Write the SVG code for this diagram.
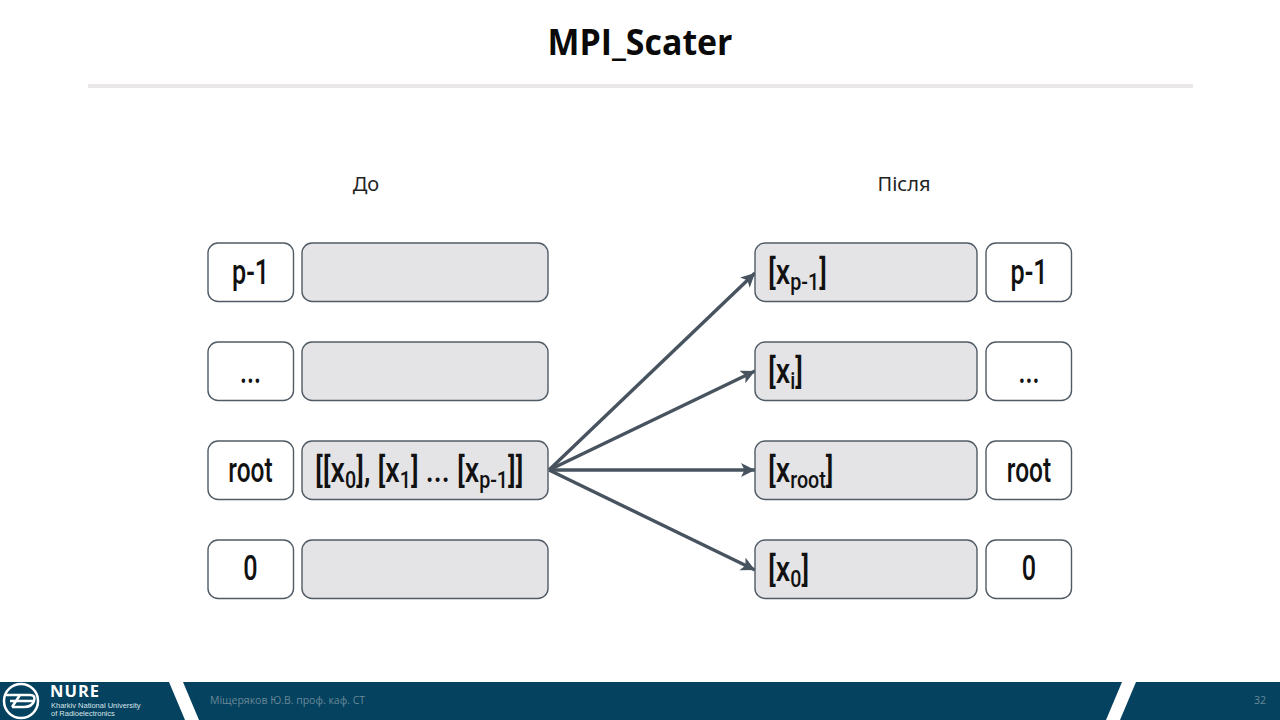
<svg xmlns="http://www.w3.org/2000/svg" width="1280" height="720" viewBox="0 0 1280 720">
<style>
.w{fill:#fff;stroke:#505b65;stroke-width:1.4}
.g{fill:#e4e4e6;stroke:#505b65;stroke-width:1.4}
.t{font-family:Roboto,"Liberation Sans",sans-serif;font-size:35px;font-weight:500;fill:#111}
.s{font-size:24px}
.h{font-family:"Noto Sans","Liberation Sans",sans-serif;font-size:20px;fill:#222;text-anchor:middle}
.c{fill:none;stroke:#47535f;stroke-width:3.4}
</style>
<defs>
<marker id="a" markerUnits="userSpaceOnUse" markerWidth="20" markerHeight="20" refX="14" refY="7" orient="auto"><path d="M0 0L14 7L0 14L3.5 7Z" fill="#47535f"/></marker>
</defs>
<rect width="1280" height="720" fill="#fff"/>
<g id="title">
<text x="640" y="55" text-anchor="middle" font-family="'Open Sans','Noto Sans',sans-serif" font-weight="700" font-size="35" fill="#0a0a0a" textLength="185" lengthAdjust="spacingAndGlyphs">MPI_Scater</text>
<rect x="88" y="84" width="1105" height="4" fill="#e9e7e7"/>
</g>
<text class="h" x="366" y="191">До</text>
<text class="h" x="904" y="191">Після</text>
<g id="connectors">
<path class="c" marker-end="url(#a)" d="M549 470L755 273"/>
<path class="c" marker-end="url(#a)" d="M549 470L755 371"/>
<path class="c" marker-end="url(#a)" d="M549 470L755 470"/>
<path class="c" marker-end="url(#a)" d="M549 470L755 570"/>
</g>
<g id="l-p1"><rect class="w" x="208" y="243" width="85.500" height="58.500" rx="10"/><text class="t" transform="translate(250.500 284) scale(.72 1)" text-anchor="middle">p-1</text></g>
<g id="l-i"><rect class="w" x="208" y="342" width="85.500" height="58.500" rx="10"/><text class="t" transform="translate(250.500 383) scale(.72 1)" text-anchor="middle">...</text></g>
<g id="l-root"><rect class="w" x="208" y="441" width="85.500" height="58.500" rx="10"/><text class="t" transform="translate(250.500 482) scale(.7 1)" text-anchor="middle">root</text></g>
<g id="l-0"><rect class="w" x="208" y="540" width="85.500" height="58.500" rx="10"/><text class="t" transform="translate(250.500 580) scale(.72 1)" text-anchor="middle">0</text></g>
<g id="d-p1"><rect class="g" x="302" y="243" width="246" height="58.500" rx="10"/></g>
<g id="d-i"><rect class="g" x="302" y="342" width="246" height="58.500" rx="10"/></g>
<g id="d-root"><rect class="g" x="302" y="441" width="246" height="58.500" rx="10"/>
<text class="t" transform="translate(315 482) scale(.82 1)">[[x<tspan class="s" dy="6">0</tspan><tspan dy="-6">], [x</tspan><tspan class="s" dy="6">1</tspan><tspan dy="-6">] ... [x</tspan><tspan class="s" dy="6">p-1</tspan><tspan dy="-6">]]</tspan></text></g>
<g id="d-0"><rect class="g" x="302" y="540" width="246" height="58.500" rx="10"/></g>
<g id="r-p1"><rect class="g" x="755" y="243" width="222" height="58.500" rx="10"/><text class="t" transform="translate(768 284) scale(.82 1)">[x<tspan class="s" dy="6">p-1</tspan><tspan dy="-6">]</tspan></text></g>
<g id="r-i"><rect class="g" x="755" y="342" width="222" height="58.500" rx="10"/><text class="t" transform="translate(768 383) scale(.82 1)">[x<tspan class="s" dy="6">i</tspan><tspan dy="-6">]</tspan></text></g>
<g id="r-root"><rect class="g" x="755" y="441" width="222" height="58.500" rx="10"/><text class="t" transform="translate(768 482) scale(.82 1)">[x<tspan class="s" dy="6">root</tspan><tspan dy="-6">]</tspan></text></g>
<g id="r-0"><rect class="g" x="755" y="540" width="222" height="58.500" rx="10"/><text class="t" transform="translate(768 581) scale(.82 1)">[x<tspan class="s" dy="6">0</tspan><tspan dy="-6">]</tspan></text></g>
<g id="n-p1"><rect class="w" x="986" y="243" width="85.500" height="58.500" rx="10"/><text class="t" transform="translate(1029 284) scale(.72 1)" text-anchor="middle">p-1</text></g>
<g id="n-i"><rect class="w" x="986" y="342" width="85.500" height="58.500" rx="10"/><text class="t" transform="translate(1029 383) scale(.72 1)" text-anchor="middle">...</text></g>
<g id="n-root"><rect class="w" x="986" y="441" width="85.500" height="58.500" rx="10"/><text class="t" transform="translate(1029 482) scale(.7 1)" text-anchor="middle">root</text></g>
<g id="n-0"><rect class="w" x="986" y="540" width="85.500" height="58.500" rx="10"/><text class="t" transform="translate(1029 580) scale(.72 1)" text-anchor="middle">0</text></g>
<g id="footer">
<rect y="682" width="1280" height="38" fill="#04425f"/>
<path d="M169 682H183L199 720H185ZM1122 682H1136L1120 720H1106Z" fill="#fff"/>
<g fill="none" stroke="#fff" stroke-width="2.500"><circle cx="21" cy="701" r="17"/><path d="M6 695H30Q36 695 34 701Q32 707 24 707H12M10 701H34M12 707L20 695"/></g>
<text x="50" y="697" font-family="'Open Sans',sans-serif" font-weight="700" font-size="16.500" fill="#fff" letter-spacing="1">NURE</text>
<text font-family="'Liberation Sans',sans-serif" font-size="7.500" fill="#d8e2e8"><tspan x="51" y="708">Kharkiv National University</tspan><tspan x="51" y="716">of Radioelectronics</tspan></text>
<text x="210" y="704" font-family="'Open Sans','Noto Sans',sans-serif" font-size="10.500" fill="#6a8898">Міщеряков Ю.В. проф. каф. СТ</text>
<text x="1254" y="704" font-family="'Open Sans','Noto Sans',sans-serif" font-size="10.500" fill="#6a8898">32</text>
</g>
</svg>
